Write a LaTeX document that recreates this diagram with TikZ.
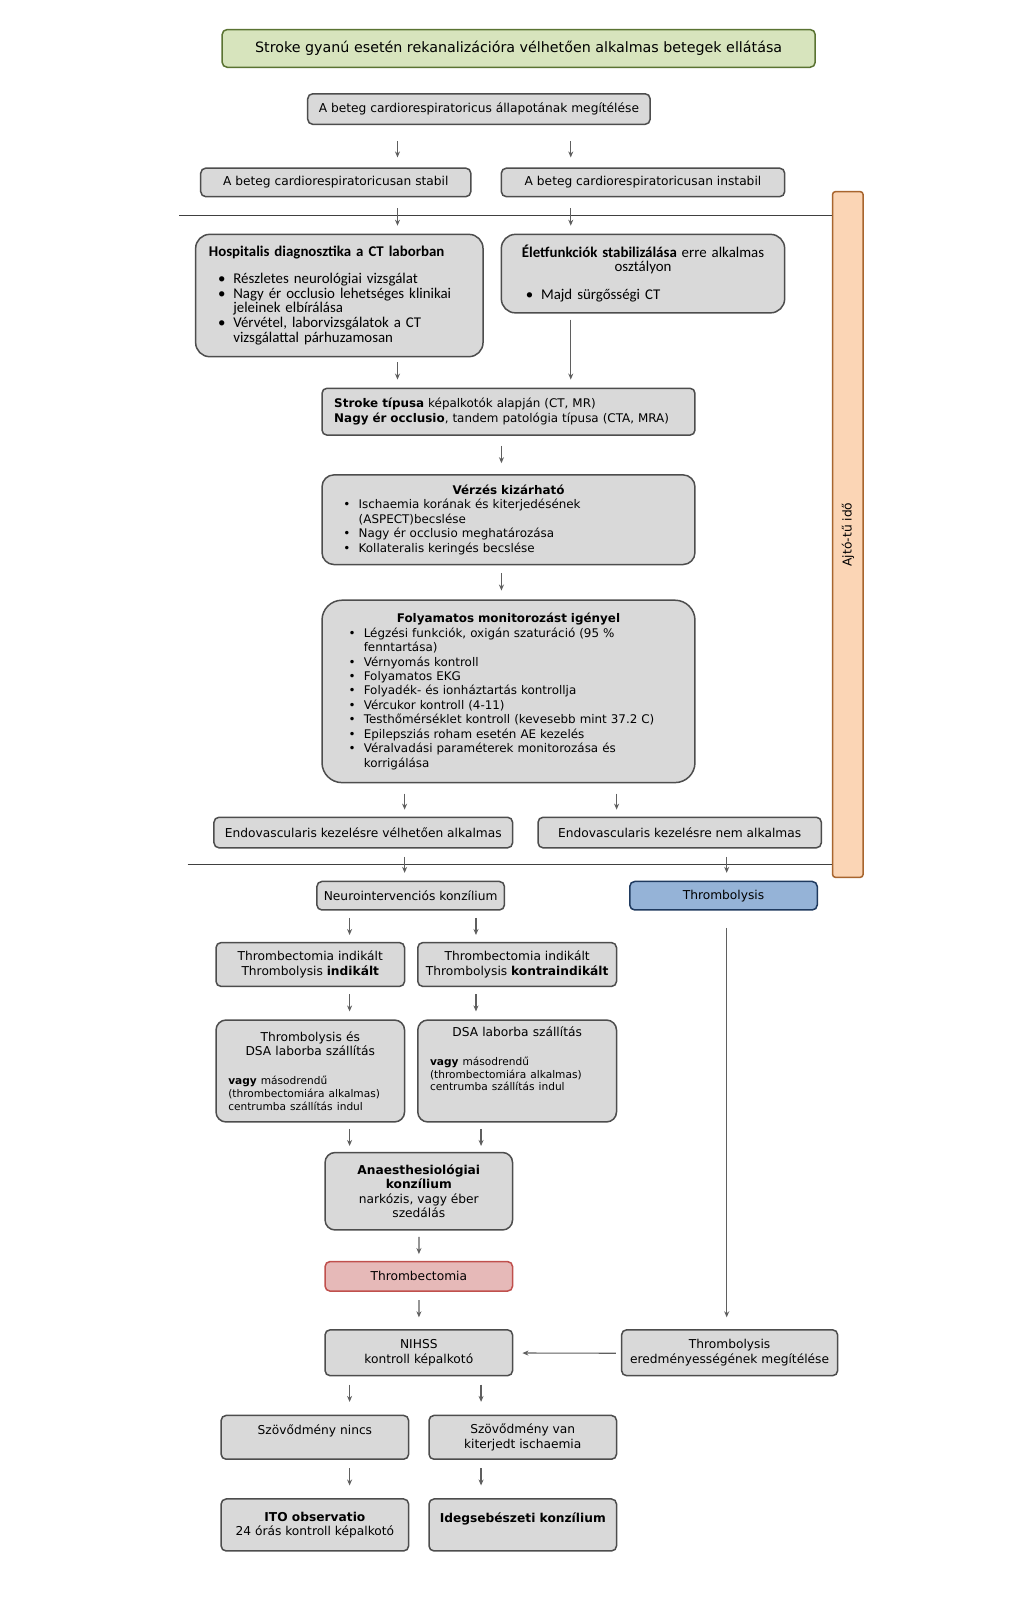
\documentclass[tikz,border=0pt]{standalone}
\usepackage{fontspec}
\setmainfont{DejaVu Sans}
\newfontfamily\calfont{Carlito}
\usetikzlibrary{arrows.meta}

\definecolor{boxfill}{HTML}{D9D9D9}
\definecolor{boxline}{HTML}{4D4D4D}
\definecolor{arrowgray}{HTML}{5F5F5F}
\definecolor{titlefill}{HTML}{D7E4BD}
\definecolor{titleline}{HTML}{5A7332}
\definecolor{lysisfill}{HTML}{95B3D7}
\definecolor{lysisline}{HTML}{1F3A5F}
\definecolor{ectomyfill}{HTML}{E6B9B8}
\definecolor{ectomyline}{HTML}{C0504D}
\definecolor{barfill}{HTML}{FBD5B5}
\definecolor{barline}{HTML}{A8652E}

\newcommand{\smallnote}{\fontsize{10.4}{12.5}\selectfont}
\newcommand{\bitem}[2][0pt]{\par\noindent\hangindent=\dimexpr#1+15pt\relax\hangafter=1\relax\hspace*{#1}\hbox to 15pt{\textbullet\hfil}#2}

\tikzset{
  box/.style={draw=boxline, fill=boxfill, line width=1.5pt, rounded corners=5pt,
    align=center, inner sep=4pt, font=\fontsize{12}{14.2}\selectfont},
  listbox/.style={box, align=left, rounded corners=12pt, font=\fontsize{11.7}{14.2}\selectfont},
  calbox/.style={listbox, rounded corners=14pt, font=\calfont\fontsize{14.6}{14.3}\selectfont},
  headbox/.style={box, draw=titleline, fill=titlefill, font=\fontsize{14}{16}\selectfont},
  timebar/.style={draw=barline, fill=barfill, line width=1.5pt, rounded corners=3pt},
  sepline/.style={draw=black!75, line width=0.8pt},
  arr/.style={draw=arrowgray, line width=1.2pt, -{Stealth[length=6pt,width=5pt]},
    shorten <=8pt, shorten >=8pt}
}

\begin{document}
\begin{tikzpicture}[x=1pt,y=-1pt,scale=1.019,every node/.append style={transform shape}]
\useasboundingbox (0,0) rectangle (1002.9,1567.2);
\fill[white] (0,0) rectangle (1002.9,1567.2);

% title
\node[headbox, minimum width=582pt, minimum height=37pt] (head) at (509,47.5)
  {Stroke gyanú esetén rekanalizációra vélhetően alkalmas betegek ellátása};

\node[box, minimum width=336pt, minimum height=30pt] (assess) at (470,107)
  {A beteg cardiorespiratoricus állapotának megítélése};
\node[box, minimum width=265pt, minimum height=28pt] (stable) at (329.5,179)
  {A beteg cardiorespiratoricusan stabil};
\node[box, minimum width=278pt, minimum height=28pt] (unstable) at (631,179)
  {A beteg cardiorespiratoricusan instabil};

\node[calbox, minimum width=282pt, minimum height=120pt, text width=256pt, inner xsep=13pt] (hosp) at (333,290)
  {\textbf{Hospitalis diagnosztika a CT laborban}\par\vspace{12pt}
   \bitem[9pt]{Részletes neurológiai vizsgálat}
   \bitem[9pt]{Nagy ér occlusio lehetséges klinikai\newline jeleinek elbírálása}
   \bitem[9pt]{Vérvétel, laborvizsgálatok a CT\newline vizsgálattal párhuzamosan}\par};
\node[calbox, minimum width=278pt, minimum height=77pt, text width=258pt, inner xsep=10pt] (vital) at (631,268.5)
  {{\centering\textbf{Életfunkciók stabilizálása} erre alkalmas\\ osztályon\par}\vspace{13pt}
   \bitem[14pt]{Majd sürgősségi CT}\par};

\node[box, align=left, font=\fontsize{11.7}{14.2}\selectfont, minimum width=366pt, minimum height=46pt, text width=342pt, inner xsep=12pt] (ctype) at (499,404)
  {\textbf{Stroke típusa} képalkotók alapján (CT, MR)\\
   \textbf{Nagy ér occlusio}, tandem patológia típusa (CTA, MRA)};

\node[listbox, minimum width=366pt, minimum height=88pt, text width=330pt, inner xsep=18pt] (bleed) at (499,510)
  {{\centering\textbf{Vérzés kizárható}\par}
   \bitem[3pt]{Ischaemia korának és kiterjedésének\newline (ASPECT)becslése}
   \bitem[3pt]{Nagy ér occlusio meghatározása}
   \bitem[3pt]{Kollateralis keringés becslése}\par};

\node[listbox, rounded corners=20pt, minimum width=366pt, minimum height=179pt, text width=330pt, inner xsep=18pt] (monitor) at (499,678.5)
  {{\centering\textbf{Folyamatos monitorozást igényel}\par}
   \bitem[8pt]{Légzési funkciók, oxigán szaturáció (95~\%\newline fenntartása)}
   \bitem[8pt]{Vérnyomás kontroll}
   \bitem[8pt]{Folyamatos EKG}
   \bitem[8pt]{Folyadék- és ionháztartás kontrollja}
   \bitem[8pt]{Vércukor kontroll (4-11)}
   \bitem[8pt]{Testhőmérséklet kontroll (kevesebb mint 37.2 C)}
   \bitem[8pt]{Epilepsziás roham esetén AE kezelés}
   \bitem[8pt]{Véralvadási paraméterek monitorozása és\newline korrigálása}\par};

\node[box, minimum width=293pt, minimum height=30pt] (endoyes) at (356.5,817)
  {Endovascularis kezelésre vélhetően alkalmas};
\node[box, minimum width=278pt, minimum height=30pt] (endono) at (667,817)
  {Endovascularis kezelésre nem alkalmas};

\node[box, minimum width=184pt, minimum height=28pt] (neuro) at (403,879) {Neurointervenciós konzílium};
\node[box, draw=lysisline, fill=lysisfill, minimum width=184pt, minimum height=28pt] (lysis) at (710,879) {Thrombolysis};

\node[box, minimum width=185pt, minimum height=43pt] (tiind) at (304.5,946.5)
  {Thrombectomia indikált\\Thrombolysis \textbf{indikált}};
\node[box, minimum width=195pt, minimum height=43pt] (tkontra) at (507.5,946.5)
  {Thrombectomia indikált\\Thrombolysis \textbf{kontraindikált}};

\node[listbox, font=\fontsize{12}{14.2}\selectfont, rounded corners=10pt, minimum width=185pt, minimum height=100pt, text width=161pt, inner xsep=12pt] (lysisdsa) at (304.5,1051)
  {{\centering Thrombolysis és\\ DSA laborba szállítás\par}\vspace{16pt}
   {\smallnote\textbf{vagy} másodrendű\newline (thrombectomiára alkalmas)\newline centrumba szállítás indul\par}};
\node[listbox, font=\fontsize{12}{14.2}\selectfont, rounded corners=10pt, minimum width=195pt, minimum height=100pt, text width=171pt, inner xsep=12pt] (dsa) at (507.5,1051)
  {{\centering DSA laborba szállítás\par}\vspace{16pt}
   {\smallnote\textbf{vagy} másodrendű\newline (thrombectomiára alkalmas)\newline centrumba szállítás indul\par}\vspace{10pt}\mbox{}};

\node[box, rounded corners=10pt, minimum width=184pt, minimum height=76pt] (anaest) at (411,1169)
  {\textbf{Anaesthesiológiai}\\\textbf{konzílium}\\narkózis, vagy éber\\szedálás};
\node[box, draw=ectomyline, fill=ectomyfill, minimum width=184pt, minimum height=29pt] (ectomy) at (411,1252.5) {Thrombectomia};

\node[box, minimum width=184pt, minimum height=45pt] (nihss) at (411,1327.5) {NIHSS\\kontroll képalkotó};
\node[box, minimum width=212pt, minimum height=45pt] (lysiseval) at (716,1327.5)
  {Thrombolysis\\eredményességének megítélése};

\node[box, minimum width=184pt, minimum height=43pt] (nocomp) at (309,1410.5) {Szövődmény nincs\\\mbox{}};
\node[box, minimum width=184pt, minimum height=43pt] (comp) at (513,1410.5) {Szövődmény van\\kiterjedt ischaemia};
\node[box, minimum width=184pt, minimum height=51pt] (ito) at (309,1496.5)
  {\textbf{ITO observatio}\\24 órás kontroll képalkotó};
\node[box, minimum width=184pt, minimum height=51pt] (neurosurg) at (513,1496.5)
  {\textbf{Idegsebészeti konzílium}\\\mbox{}};

% door-to-needle bar
\node[timebar, minimum width=30pt, minimum height=673pt] (doortime) at (832,524.5) {};
\node[rotate=90, font=\fontsize{12}{14}\selectfont] (doorlabel) at (doortime.center) {Ajtó-tű idő};

% separators
\coordinate (sepA) at (176,211);
\coordinate (sepB) at (184,848);
\draw[sepline] (sepA) -- (sepA -| doortime.west);
\draw[sepline] (sepB) -- (sepB -| doortime.west);

% arrow columns
\coordinate (colA) at (390,0);
\coordinate (colB) at (560,0);
\coordinate (colC) at (492,0);
\coordinate (colD) at (397,0);
\coordinate (colE) at (605,0);
\coordinate (colF) at (713,0);
\coordinate (colG) at (343,0);
\coordinate (colH) at (467,0);
\coordinate (colI) at (472,0);

\draw[arr, shorten <=16pt, shorten >=10pt] (assess.south -| colA) -- (stable.north -| colA);
\draw[arr, shorten <=16pt, shorten >=10pt] (assess.south -| colB) -- (unstable.north -| colB);
\draw[arr, shorten <=11pt] (stable.south -| colA) -- (hosp.north -| colA);
\draw[arr, shorten <=11pt] (unstable.south -| colB) -- (vital.north -| colB);
\draw[arr, shorten <=5pt] (hosp.south -| colA) -- (ctype.north -| colA);
\draw[arr, shorten <=6pt] (vital.south -| colB) -- (ctype.north -| colB);
\draw[arr, shorten <=10pt, shorten >=11pt] (ctype.south -| colC) -- (bleed.north -| colC);
\draw[arr, shorten >=9pt] (bleed.south -| colC) -- (monitor.north -| colC);
\draw[arr, shorten <=10pt, shorten >=7pt] (monitor.south -| colD) -- (endoyes.north -| colD);
\draw[arr, shorten <=10pt, shorten >=7pt] (monitor.south -| colE) -- (endono.north -| colE);
\draw[arr] (endoyes.south -| colD) -- (neuro.north -| colD);
\draw[arr] (endono.south -| colF) -- (lysis.north -| colF);
\draw[arr, shorten <=7pt, shorten >=7pt] (neuro.south -| colG) -- (tiind.north -| colG);
\draw[arr, shorten <=7pt, shorten >=7pt] (neuro.south -| colH) -- (tkontra.north -| colH);
\draw[arr, shorten <=7pt] (tiind.south -| colG) -- (lysisdsa.north -| colG);
\draw[arr, shorten <=7pt] (tkontra.south -| colH) -- (dsa.north -| colH);
\draw[arr, shorten <=6pt, shorten >=6pt] (lysisdsa.south -| colG) -- (anaest.north -| colG);
\draw[arr, shorten <=6pt, shorten >=6pt] (dsa.south -| colI) -- (anaest.north -| colI);
\draw[arr, shorten <=6pt, shorten >=7pt] (anaest) -- (ectomy);
\draw[arr, shorten >=12pt] (ectomy) -- (nihss);
\draw[arr, shorten <=17pt, shorten >=12pt] (lysis.south -| colF) -- (lysiseval.north -| colF);
\draw[arr, shorten <=5pt, shorten >=9pt] (lysiseval) -- (nihss);
\draw[arr, shorten >=13pt] (nihss.south -| colG) -- (nocomp.north -| colG);
\draw[arr, shorten >=13pt] (nihss.south -| colI) -- (comp.north -| colI);
\draw[arr, shorten >=13pt] (nocomp.south -| colG) -- (ito.north -| colG);
\draw[arr, shorten >=13pt] (comp.south -| colI) -- (neurosurg.north -| colI);

\end{tikzpicture}
\end{document}
